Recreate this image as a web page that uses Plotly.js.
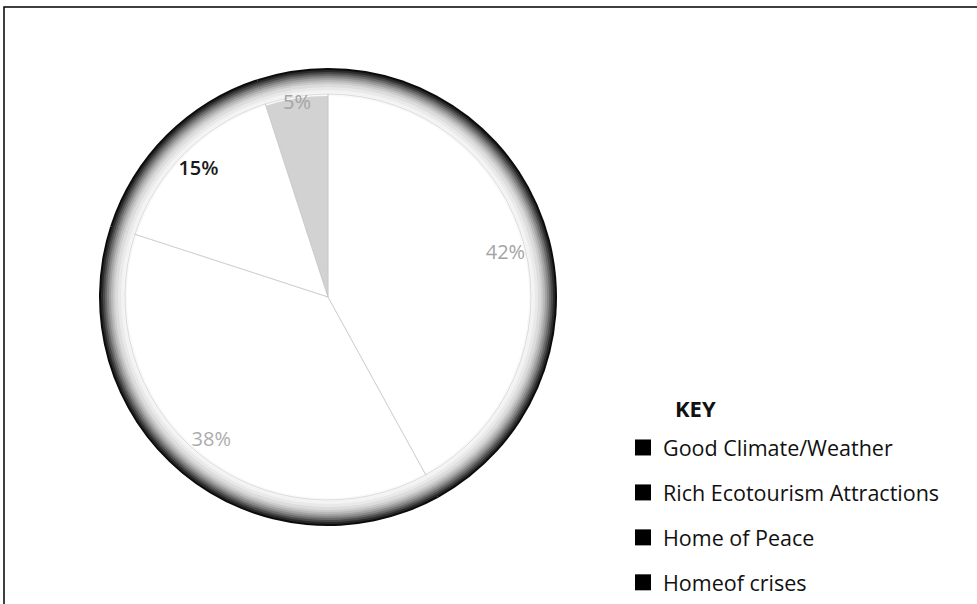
<!DOCTYPE html>
<html>
<head>
<meta charset="utf-8">
<script src="https://cdn.plot.ly/plotly-3.0.1.min.js"></script>
<style>html,body{margin:0;padding:0;background:#fff;}#chart{width:977px;height:604px;}</style>
</head>
<body>
<div id="chart"></div>
<script>
// Data
const categories = ["Good Climate/Weather", "Rich Ecotourism Attractions", "Home of Peace", "Homeof crises"];
const values = [42, 38, 15, 5];
const labelColors = ["#a4a4a4", "#acacac", "#1a1a1a", "#a4a4a4"];
const labelWeights = [400, 400, 600, 400];

// Geometry (pixels)
const W = 977, H = 604;
const cx = 328, cy = 297, R = 229;
function domainFor(r) {
  return {
    x: [(cx - r) / W, (cx + r) / W],
    y: [(H - cy - r) / H, (H - cy + r) / H]
  };
}

// rim gradient layers (outer dark to inner white)
const rimSteps = [
  {d: 0, c: "#0c0c0c"}, {d: 2, c: "#2a2a2a"}, {d: 4, c: "#4a4a4a"},
  {d: 6, c: "#6a6a6a"}, {d: 8, c: "#888888"}, {d: 10, c: "#a2a2a2"},
  {d: 12, c: "#b9b9b9"}, {d: 14, c: "#cccccc"}, {d: 16, c: "#dcdcdc"},
  {d: 19, c: "#e9e9e9"}, {d: 22, c: "#f3f3f3"}, {d: 25, c: "#f9f9f9"}
];

const traces = [];
rimSteps.forEach(s => {
  traces.push({
    type: "pie", labels: categories, values: values, sort: false,
    direction: "clockwise", rotation: 0,
    domain: domainFor(R - s.d),
    marker: {colors: categories.map(() => s.c), line: {width: 0}},
    textinfo: "none", hoverinfo: "skip", showlegend: false
  });
});
// inner face
traces.push({
  type: "pie", labels: categories, values: values, sort: false,
  direction: "clockwise", rotation: 0,
  domain: domainFor(R - 28),
  marker: {colors: ["#ffffff", "#ffffff", "#ffffff", "#d2d2d2"], line: {width: 0}},
  textinfo: "none", hoverinfo: "skip", showlegend: false
});
// separator lines (transparent fill)
traces.push({
  type: "pie", labels: categories, values: values, sort: false,
  direction: "clockwise", rotation: 0,
  domain: domainFor(R - 26),
  marker: {colors: categories.map(() => "rgba(0,0,0,0)"), line: {color: "rgba(200,200,200,0.6)", width: 1}},
  textinfo: "none", hoverinfo: "skip", showlegend: false
});
// text layer
traces.push({
  type: "pie", labels: categories, values: values, sort: false,
  direction: "clockwise", rotation: 0, hole: 0.6,
  domain: domainFor(R),
  marker: {colors: categories.map(() => "rgba(0,0,0,0)"), line: {width: 0}},
  texttemplate: "%{value}%", textposition: "inside",
  insidetextorientation: "horizontal",
  textfont: {family: "Open Sans, sans-serif", size: 20, color: labelColors, weight: labelWeights},
  hoverinfo: "label+percent", showlegend: false
});
// legend entries
categories.forEach((c, i) => {
  traces.push({
    type: "scatter", x: [null], y: [null], mode: "markers", name: c,
    legendgroup: "g" + i,
    marker: {symbol: "square", size: 16, color: "#000"}
  });
});

const layout = {
  width: W, height: H,
  margin: {l: 0, r: 0, t: 0, b: 0},
  paper_bgcolor: "#fff", plot_bgcolor: "#fff",
  xaxis: {visible: false}, yaxis: {visible: false},
  showlegend: true,
  legend: {
    x: 623 / W, xanchor: "left", y: (H - 427) / H, yanchor: "top",
    traceorder: "grouped", tracegroupgap: 14,
    font: {family: "Open Sans, sans-serif", size: 21.5, color: "#111"},
    bgcolor: "rgba(0,0,0,0)"
  },
  annotations: [{
    text: "<b>KEY</b>", xref: "paper", yref: "paper",
    x: 695 / W, y: (H - 408) / H, xanchor: "center", yanchor: "middle",
    showarrow: false, font: {family: "Open Sans, sans-serif", size: 22, color: "#111"}
  }],
  shapes: [{
    type: "rect", xref: "paper", yref: "paper",
    x0: 4 / W, x1: 1.01, y0: -0.01, y1: (H - 7) / H,
    line: {color: "#000", width: 1.5}
  }]
};

Plotly.newPlot("chart", traces, layout, {displayModeBar: false, staticPlot: true});
</script>
</body>
</html>
